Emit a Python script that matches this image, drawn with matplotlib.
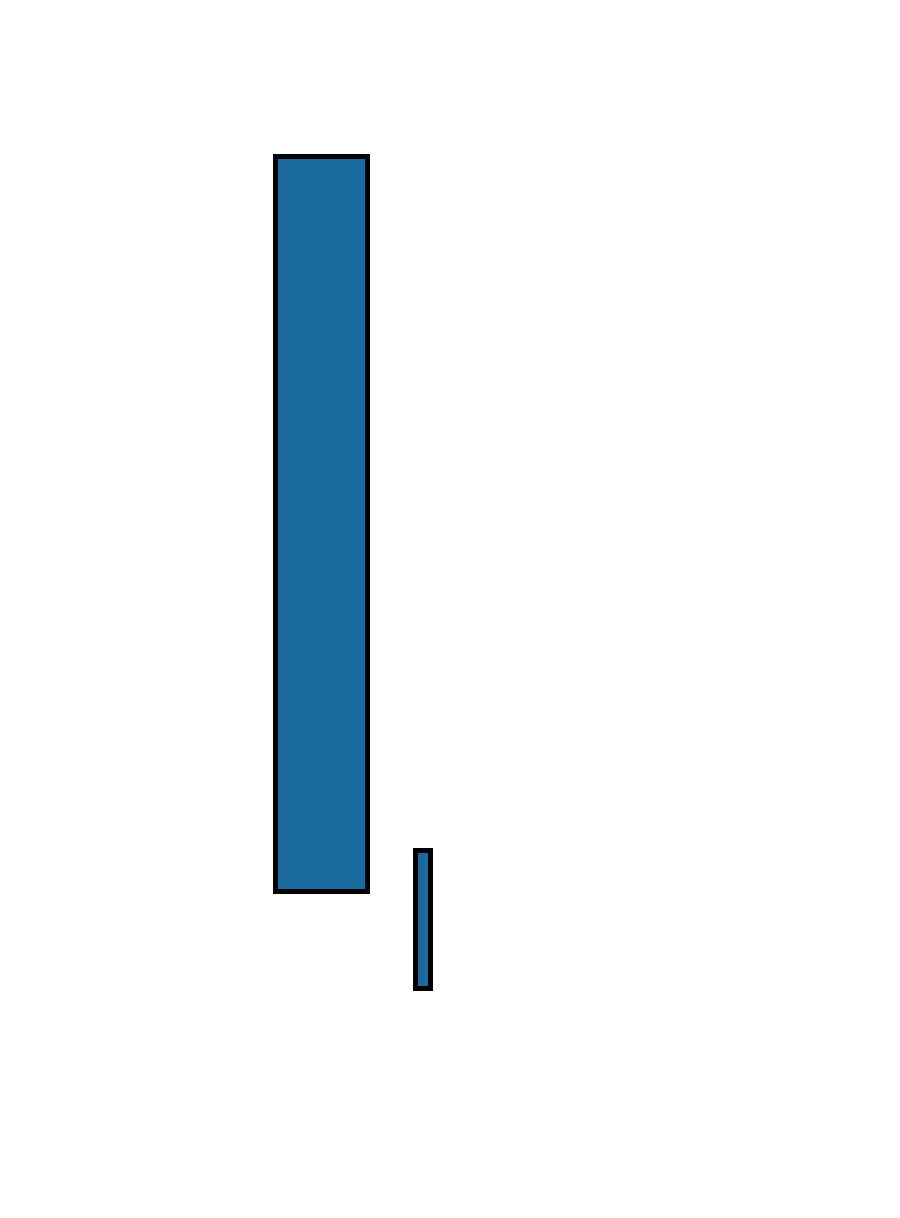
import matplotlib
matplotlib.use("Agg")
import matplotlib.pyplot as plt

# Floating bars (value ranges)
categories = ["A", "B"]
centers = [3.21, 4.62]
widths = [1.28, 0.21]
lows = [21.1, 11.1]
highs = [96.5, 25.3]

fig = plt.figure(figsize=(9, 12.18), dpi=100)
ax = fig.add_axes([0.1, 0.1, 0.8, 0.8])
heights = [h - l for h, l in zip(highs, lows)]
ax.bar(centers, heights, width=widths, bottom=lows, color="#1b6a9e",
       edgecolor="black", linewidth=3.6)
ax.set_xlim(0, 10)
ax.set_ylim(0, 100)
ax.axis("off")
fig.savefig("out.png", dpi=100)
